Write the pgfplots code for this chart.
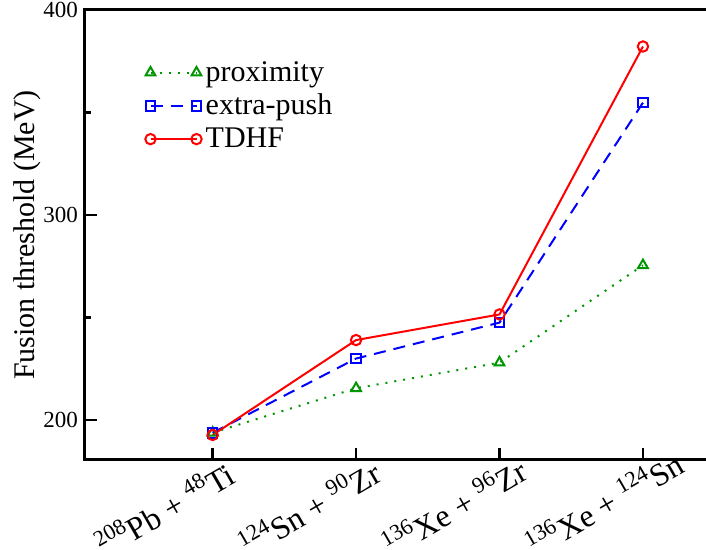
\documentclass[border=0pt]{standalone}
\usepackage{pgfplots}
\pgfplotsset{compat=1.18}
\usepackage{fontspec}
\setmainfont{Liberation Serif}
\definecolor{pgreen}{RGB}{0,150,0}
\definecolor{pblue}{RGB}{0,0,255}
\definecolor{pred}{RGB}{255,0,0}
\begin{document}
\begin{tikzpicture}
\begin{axis}[
  name=ax,
  scale only axis, width=313.4pt, height=225pt,
  xmin=-0.89, xmax=3.48, ymin=180.5, ymax=400,
  xtick={0,1,2,3},
  xticklabels={\textsuperscript{208}Pb + \textsuperscript{48}Ti,
               \textsuperscript{124}Sn + \textsuperscript{90}Zr,
               \textsuperscript{136}Xe + \textsuperscript{96}Zr,
               \textsuperscript{136}Xe + \textsuperscript{124}Sn},
  ytick={200,300,400}, minor ytick={250,350},
  xtick pos=bottom, ytick pos=left,
  tick align=inside,
  major tick length=6pt, minor tick length=3pt,
  every tick/.style={black, line width=1.2pt},
  axis line style={line width=1.5pt},
  /pgf/number format/assume math mode=true,
  yticklabel style={font=\fontsize{11.5}{14}\selectfont},
  xticklabel style={font=\fontsize{16}{18}\selectfont, inner sep=0pt, rotate=30, anchor=base west, xshift=-71.4pt, yshift=-15.7pt},
  every axis y label/.style={at={(axis description cs:-0.0925,0.5)}, rotate=90, anchor=center},
  ylabel={Fusion threshold (MeV)},
  label style={font=\fontsize{15}{18}\selectfont},
  legend style={draw=none, fill=none, at={(axis description cs:0.086,0.905)}, anchor=north west,
    font=\fontsize{15}{18}\selectfont, cells={anchor=west}, row sep=1pt},
  legend image code/.code={\draw[#1] plot coordinates {(0pt,0pt) (23pt,0pt)};},
]
\addplot[pgreen, line width=1pt, dash pattern=on 1pt off 3.5pt, mark=triangle, mark size=2.8pt, mark options={solid}]
  coordinates {(0,193.8) (1,215.5) (2,228) (3,275.5)};
\addlegendentry{proximity}
\addplot[pblue, line width=1pt, dash pattern=on 6pt off 4pt, mark=square, mark size=2.4pt, mark options={solid}]
  coordinates {(0,193.8) (1,230) (2,247.5) (3,354.8)};
\addlegendentry{extra-push}
\addplot[pred, line width=1pt, mark=o, mark size=2.6pt, mark options={solid}]
  coordinates {(0,192.7) (1,239) (2,251.5) (3,382.2)};
\addlegendentry{TDHF}
\end{axis}
\pgfresetboundingbox
\path[use as bounding box] ([xshift=-42.5pt,yshift=-45pt]ax.south west) rectangle ([xshift=310.5pt,yshift=230pt]ax.south west);
\end{tikzpicture}
\end{document}
